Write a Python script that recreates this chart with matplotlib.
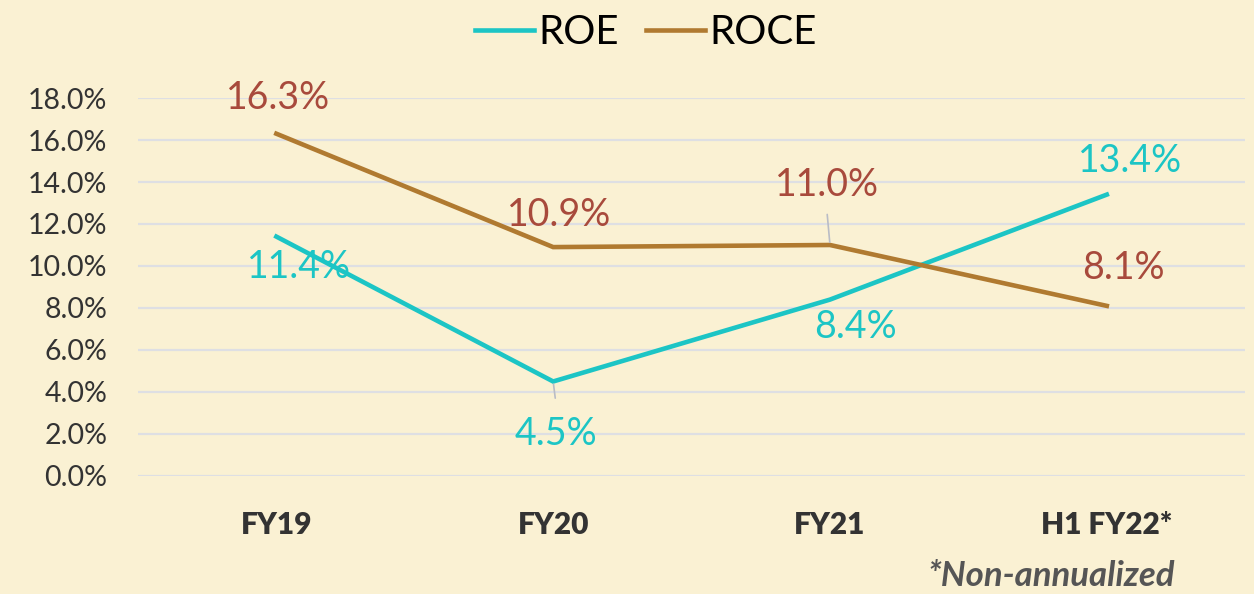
import matplotlib
matplotlib.use('Agg')
import matplotlib.pyplot as plt
import matplotlib.ticker as ticker

# Data
periods = ['FY19', 'FY20', 'FY21', 'H1 FY22*']
roe = [11.4, 4.5, 8.4, 13.4]
roce = [16.3, 10.9, 11.0, 8.1]

# label offsets (points) relative to each point
roe_offsets = [(16, -22), (2, -38), (18, -20), (17, 24)]
roce_offsets = [(1, 26), (4, 23), (-2, 43), (12, 27)]

plt.rcParams['font.family'] = ['Lato', 'DejaVu Sans']

bg = '#FAF1D3'
roe_col = '#1CC5C5'
roce_col = '#B07A30'
roce_lab = '#A84A3C'

fig = plt.figure(figsize=(12.54, 5.94), dpi=100, facecolor=bg)
ax = fig.add_axes([0.110, 0.1987, 0.883, 0.6363])
ax.set_facecolor(bg)

x = range(len(periods))
ax.plot(x, [v / 100 for v in roe], color=roe_col, lw=3.3, label='ROE', solid_joinstyle='miter')
ax.plot(x, [v / 100 for v in roce], color=roce_col, lw=3.3, label='ROCE', solid_joinstyle='miter')

for i, v in enumerate(roe):
    ax.annotate(f'{v:.1f}%', (i, v / 100), xytext=roe_offsets[i], textcoords='offset points',
                ha='center', va='center', fontsize=27, color=roe_col, annotation_clip=False)
for i, v in enumerate(roce):
    ax.annotate(f'{v:.1f}%', (i, v / 100), xytext=roce_offsets[i], textcoords='offset points',
                ha='center', va='center', fontsize=27, color=roce_lab, annotation_clip=False)

# leader lines
ax.annotate('', xy=(1, roe[1] / 100), xytext=(1.5, -12), textcoords='offset points',
            arrowprops=dict(arrowstyle='-', color='#B9BCC6', lw=1.2, shrinkA=0, shrinkB=2))
ax.annotate('', xy=(2, roce[2] / 100), xytext=(-2, 22), textcoords='offset points',
            arrowprops=dict(arrowstyle='-', color='#B9BCC6', lw=1.2, shrinkA=0, shrinkB=2))

ax.set_xlim(-0.5, 3.5)
ax.set_ylim(0, 0.18)
ax.set_yticks([i / 100 for i in range(0, 19, 2)])
ax.yaxis.set_major_formatter(ticker.PercentFormatter(1, decimals=1))
ax.set_xticks(list(x))
ax.set_xticklabels(periods, fontsize=21.5, fontweight='heavy', color='#333333')
ax.tick_params(axis='y', labelsize=20.5, labelcolor='#333333', length=0, pad=22)
ax.tick_params(axis='x', length=0, pad=25)
ax.grid(axis='y', color='#DEDFE3', lw=1.6)
ax.set_axisbelow(True)
for s in ax.spines.values():
    s.set_visible(False)

fig.legend(loc='upper center', bbox_to_anchor=(0.515, 1.037), ncol=2, frameon=False,
           fontsize=29, handlelength=1.47, handletextpad=0.1, columnspacing=0.67)

fig.text(0.937, 0.03, '*Non-annualized', ha='right', va='center', fontsize=25,
         fontweight='bold', fontstyle='italic', color='#555555')

fig.savefig('out.png', dpi=100, facecolor=bg)
